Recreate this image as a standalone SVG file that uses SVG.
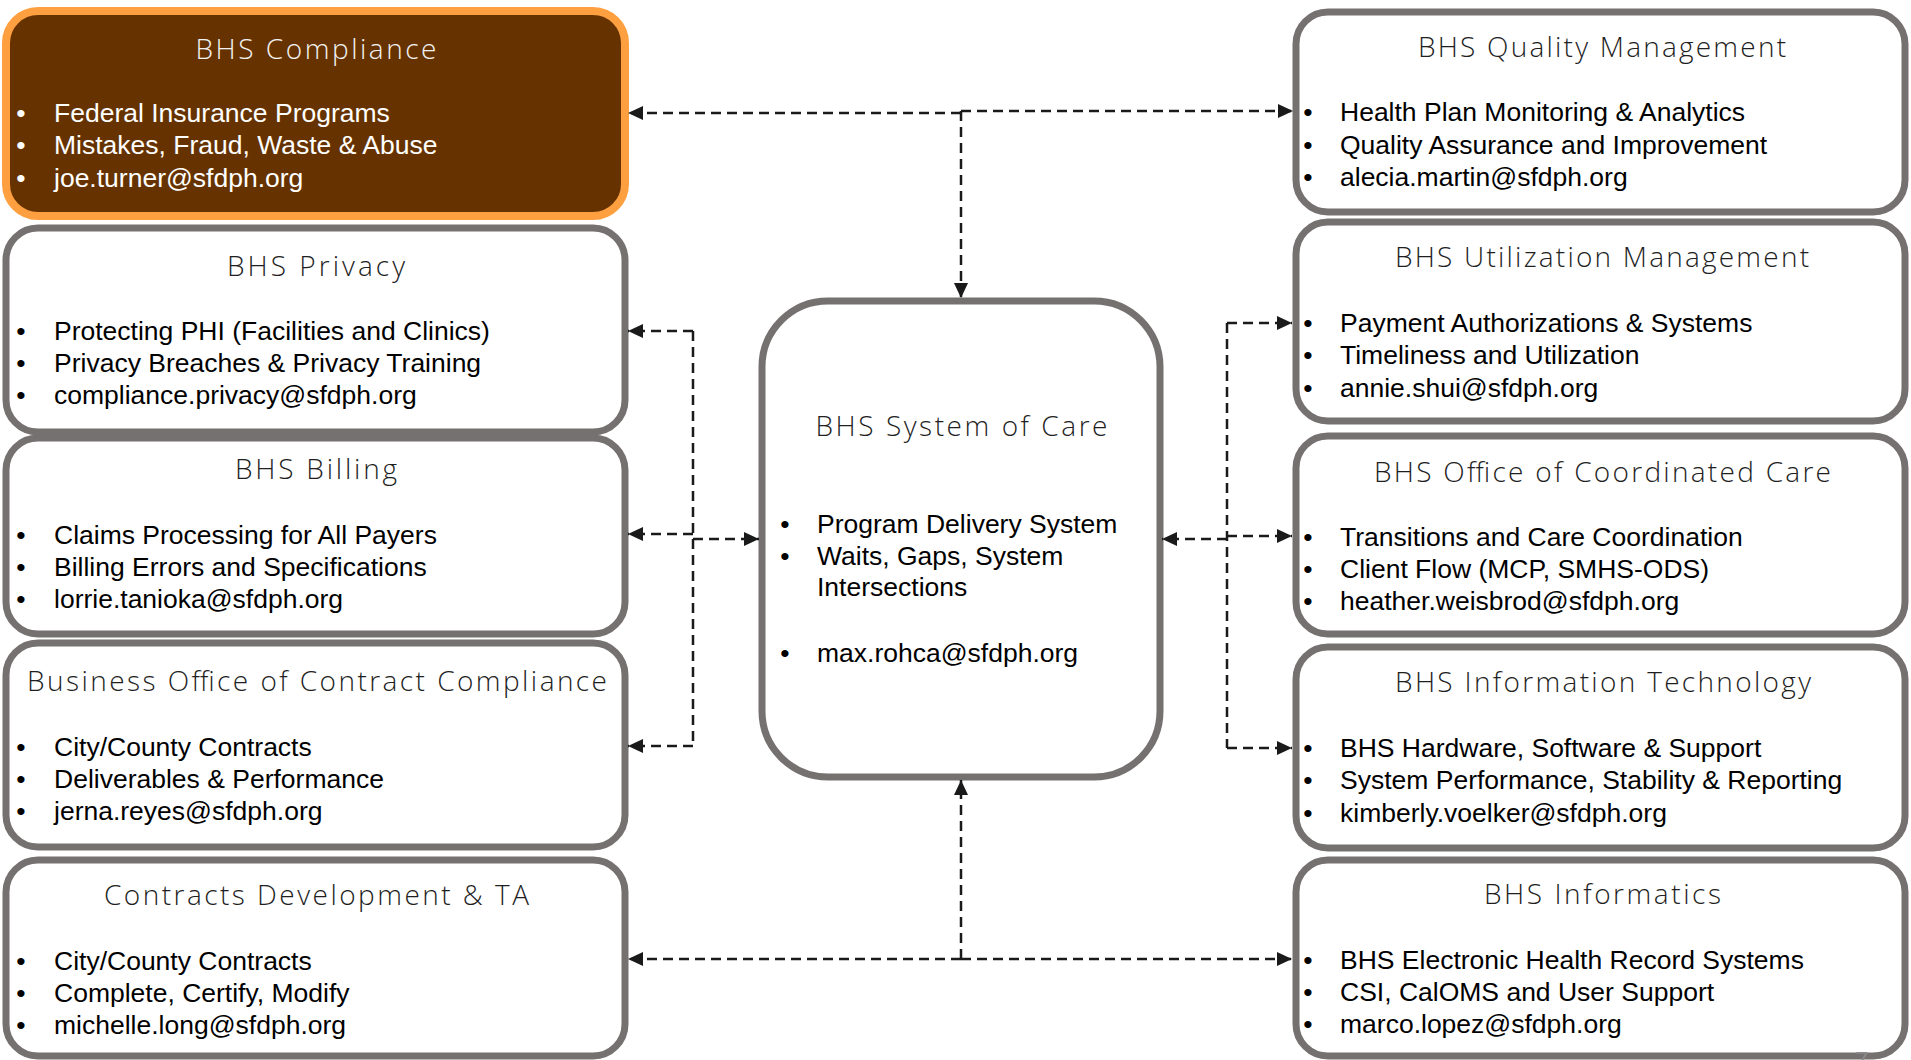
<svg xmlns="http://www.w3.org/2000/svg" width="1911" height="1060" viewBox="0 0 1911 1060">
<style>
.box{fill:#fff;stroke:#767171;stroke-width:7}
.comp{fill:#663300;stroke:#FFA040;stroke-width:8}
.title{font-family:"Open Sans",Lato,"Liberation Sans",sans-serif;font-weight:300;font-size:28px;fill:#1f1f1f;text-anchor:middle}
.item{font-family:"Liberation Sans",Arial,sans-serif;font-size:26.5px;fill:#000}
.dot{font-family:"Liberation Sans",Arial,sans-serif;font-size:26.5px;fill:#000;text-anchor:middle}
.wt{fill:#fff}
.conn{fill:none;stroke:#1a1a1a;stroke-width:2.5;stroke-dasharray:10 6}
.arr{marker-end:url(#ah)}
.pg{font-family:"Liberation Sans",Arial,sans-serif;font-size:24px;fill:#8a8a8a}
</style>
<defs>
<marker id="ah" viewBox="0 0 15 14" refX="15" refY="7" markerWidth="15" markerHeight="14" markerUnits="userSpaceOnUse" orient="auto">
<path d="M0,0 L15,7 L0,14 z" fill="#1a1a1a"/>
</marker>
</defs>
<rect width="1911" height="1060" fill="#fff"/>

<g id="bhs-compliance">
<rect class="comp" x="6" y="11" width="619" height="205" rx="32"/>
<text class="title" x="316" y="59" textLength="241" style="fill:#f2f2f2">BHS Compliance</text>
<text class="dot wt" x="21" y="122">•</text><text class="dot wt" x="21" y="154">•</text><text class="dot wt" x="21" y="187">•</text>
<text class="item wt"><tspan x="54" y="122">Federal Insurance Programs</tspan><tspan x="54" y="154">Mistakes, Fraud, Waste &amp; Abuse</tspan><tspan x="54" y="187">joe.turner@sfdph.org</tspan></text>
</g>

<g id="bhs-privacy">
<rect class="box" x="6" y="228" width="619" height="204" rx="32"/>
<text class="title" x="316" y="276" textLength="178">BHS Privacy</text>
<text class="dot" x="21" y="340">•</text><text class="dot" x="21" y="372">•</text><text class="dot" x="21" y="404">•</text>
<text class="item"><tspan x="54" y="340">Protecting PHI (Facilities and Clinics)</tspan><tspan x="54" y="372">Privacy Breaches &amp; Privacy Training</tspan><tspan x="54" y="404">compliance.privacy@sfdph.org</tspan></text>
</g>

<g id="bhs-billing">
<rect class="box" x="6" y="438" width="619" height="196" rx="32"/>
<text class="title" x="316" y="479" textLength="162">BHS Billing</text>
<text class="dot" x="21" y="544">•</text><text class="dot" x="21" y="576">•</text><text class="dot" x="21" y="608">•</text>
<text class="item"><tspan x="54" y="544">Claims Processing for All Payers</tspan><tspan x="54" y="576">Billing Errors and Specifications</tspan><tspan x="54" y="608">lorrie.tanioka@sfdph.org</tspan></text>
</g>

<g id="business-office-contract-compliance">
<rect class="box" x="6" y="643" width="619" height="204" rx="32"/>
<text class="title" x="317" y="691" textLength="580">Business Office of Contract Compliance</text>
<text class="dot" x="21" y="756">•</text><text class="dot" x="21" y="788">•</text><text class="dot" x="21" y="820">•</text>
<text class="item"><tspan x="54" y="756">City/County Contracts</tspan><tspan x="54" y="788">Deliverables &amp; Performance</tspan><tspan x="54" y="820">jerna.reyes@sfdph.org</tspan></text>
</g>

<g id="contracts-development-ta">
<rect class="box" x="6" y="860" width="619" height="196" rx="32"/>
<text class="title" x="316.5" y="905" textLength="425">Contracts Development &amp; TA</text>
<text class="dot" x="21" y="970">•</text><text class="dot" x="21" y="1002">•</text><text class="dot" x="21" y="1034">•</text>
<text class="item"><tspan x="54" y="970">City/County Contracts</tspan><tspan x="54" y="1002">Complete, Certify, Modify</tspan><tspan x="54" y="1034">michelle.long@sfdph.org</tspan></text>
</g>

<g id="bhs-quality-management">
<rect class="box" x="1296" y="12" width="609" height="200" rx="32"/>
<text class="title" x="1602" y="57" textLength="368">BHS Quality Management</text>
<text class="dot" x="1308" y="121">•</text><text class="dot" x="1308" y="154">•</text><text class="dot" x="1308" y="186">•</text>
<text class="item"><tspan x="1340" y="121">Health Plan Monitoring &amp; Analytics</tspan><tspan x="1340" y="154">Quality Assurance and Improvement</tspan><tspan x="1340" y="186">alecia.martin@sfdph.org</tspan></text>
</g>

<g id="bhs-utilization-management">
<rect class="box" x="1296" y="222" width="609" height="199" rx="32"/>
<text class="title" x="1602" y="267" textLength="414">BHS Utilization Management</text>
<text class="dot" x="1308" y="332">•</text><text class="dot" x="1308" y="364">•</text><text class="dot" x="1308" y="397">•</text>
<text class="item"><tspan x="1340" y="332">Payment Authorizations &amp; Systems</tspan><tspan x="1340" y="364">Timeliness and Utilization</tspan><tspan x="1340" y="397">annie.shui@sfdph.org</tspan></text>
</g>

<g id="bhs-office-coordinated-care">
<rect class="box" x="1296" y="436" width="609" height="198" rx="32"/>
<text class="title" x="1602.5" y="482" textLength="457">BHS Office of Coordinated Care</text>
<text class="dot" x="1308" y="546">•</text><text class="dot" x="1308" y="578">•</text><text class="dot" x="1308" y="610">•</text>
<text class="item"><tspan x="1340" y="546">Transitions and Care Coordination</tspan><tspan x="1340" y="578">Client Flow (MCP, SMHS-ODS)</tspan><tspan x="1340" y="610">heather.weisbrod@sfdph.org</tspan></text>
</g>

<g id="bhs-information-technology">
<rect class="box" x="1296" y="647" width="609" height="201" rx="32"/>
<text class="title" x="1603" y="692" textLength="416">BHS Information Technology</text>
<text class="dot" x="1308" y="757">•</text><text class="dot" x="1308" y="789">•</text><text class="dot" x="1308" y="822">•</text>
<text class="item"><tspan x="1340" y="757">BHS Hardware, Software &amp; Support</tspan><tspan x="1340" y="789">System Performance, Stability &amp; Reporting</tspan><tspan x="1340" y="822">kimberly.voelker@sfdph.org</tspan></text>
</g>

<g id="bhs-informatics">
<rect class="box" x="1296" y="860" width="609" height="196" rx="32"/>
<text class="title" x="1602.5" y="904" textLength="237">BHS Informatics</text>
<text class="dot" x="1308" y="969">•</text><text class="dot" x="1308" y="1001">•</text><text class="dot" x="1308" y="1033">•</text>
<text class="item"><tspan x="1340" y="969">BHS Electronic Health Record Systems</tspan><tspan x="1340" y="1001">CSI, CalOMS and User Support</tspan><tspan x="1340" y="1033">marco.lopez@sfdph.org</tspan></text>
</g>

<g id="bhs-system-of-care">
<rect class="box" x="762" y="301" width="398" height="476" rx="66"/>
<text class="title" x="961.5" y="436" textLength="292">BHS System of Care</text>
<text class="dot" x="785" y="533">•</text><text class="dot" x="785" y="565">•</text><text class="dot" x="785" y="662">•</text>
<text class="item"><tspan x="817" y="533">Program Delivery System</tspan><tspan x="817" y="565">Waits, Gaps, System</tspan><tspan x="817" y="596">Intersections</tspan><tspan x="817" y="662">max.rohca@sfdph.org</tspan></text>
</g>

<g id="connectors">
<path class="conn arr" d="M961,113 H628"/>
<path class="conn arr" d="M961,111 H1293"/>
<path class="conn arr" d="M961,111 V298"/>
<path class="conn" d="M693,331 V746"/>
<path class="conn arr" d="M693,331 H628"/>
<path class="conn arr" d="M693,534 H628"/>
<path class="conn arr" d="M693,746 H628"/>
<path class="conn arr" d="M693,539 H759"/>
<path class="conn" d="M1227,323 V748"/>
<path class="conn arr" d="M1227,323 H1292"/>
<path class="conn arr" d="M1227,536 H1292"/>
<path class="conn arr" d="M1227,748 H1292"/>
<path class="conn arr" d="M1227,539 H1162"/>
<path class="conn arr" d="M961,959 V780"/>
<path class="conn arr" d="M961,959 H628"/>
<path class="conn arr" d="M961,959 H1292"/>
</g>

<text class="pg" x="1855" y="1069">7</text>
</svg>
